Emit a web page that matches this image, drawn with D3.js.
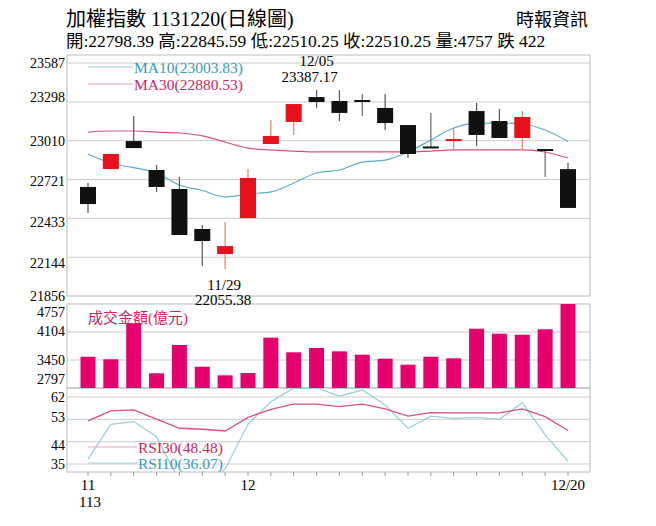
<!DOCTYPE html>
<html><head><meta charset="utf-8">
<script src="https://cdn.jsdelivr.net/npm/d3@7"></script>
<style>body{margin:0;background:#fff}svg{font-family:"Liberation Serif","Noto Sans CJK TC",serif}</style>
</head><body>
<svg id="c" width="656" height="526"></svg>
<script>
// daily OHLC, 11/20 .. 12/20
var open  = [22666,22799,23007,22792,22651,22354,22168,22435,22985,23149,23334,23305,23312,23253,23126,22967,23007,23230,23156,23030,22948,22798.39];
var high  = [22695,22911,23193,22829,22740,22383,22406,22799,23163,23282,23387,23386,23357,23357,23126,23215,23104,23290,23245,23230,22948,22845.59];
var low   = [22473,22799,22955,22629,22309,22079,22055,22435,22985,23052,23253,23156,23193,23089,22881,22959,22933,22970,23030,22941,22740,22510.25];
var close = [22539,22911,22955,22666,22309,22264,22227,22733,23045,23282,23297,23216,23312,23141,22911,22967,23022,23052,23030,23186,22948,22510.25];
var ma10  = [22911,22844,22810,22770,22681,22640,22591,22614,22629,22695,22770,22792,22851,22866,22926,23015,23104,23141,23141,23134,23089,23004];
var ma30  = [23074,23082,23082,23074,23067,23045,23000,22955,22941,22933,22926,22926,22926,22926,22926,22933,22941,22941,22941,22941,22926,22881];
var volume = [3527,3467,4307,3140,3800,3294,3093,3147,3971,3630,3730,3653,3574,3481,3341,3527,3490,4180,4064,4040,4167,4757];
var rsi30 = [52.4,56.4,56.8,53.1,49.4,49.0,48.3,53.8,57.0,59.1,59.1,58.1,59.1,57.2,54.3,55.7,55.6,55.6,55.6,57.2,54.1,48.5];
var rsi10 = [37.0,51.0,52.1,46.0,28,25,33,51.0,60.1,65.6,65.7,62.4,64.8,58.8,49.4,54.3,53.4,53.8,53.0,59.7,46.7,36.1];
var priceTicks = [23587,23298,23010,22721,22433,22144,21856];
var volTicks = [4757,4104,3450,2797];
var rsiTicks = [62,53,44,35];
var dateLabels = [{i:0,t:"11"},{i:7,t:"12"},{i:21,t:"12/20"}];

var svg = d3.select("#c");
var L = 67, R = 590;
var x = d3.scaleLinear().domain([0,21]).range([88,568]);
var yP = d3.scaleLinear().domain([21856,23587]).range([296,63]);
var yV = d3.scaleLinear().domain([2797,4757]).range([388,304]);
var yR = d3.scaleLinear().domain([35,62]).range([464,397]);
var grid = "#ccc";

// header
svg.append("text").attr("x",66).attr("y",26).attr("font-size",20).text("加權指數 1131220(日線圖)");
svg.append("text").attr("x",588).attr("y",26).attr("font-size",18).attr("text-anchor","end").text("時報資訊");
svg.append("text").attr("x",66).attr("y",47).attr("font-size",17.5).text("開:22798.39 高:22845.59 低:22510.25 收:22510.25 量:4757 跌 422");

function panel(y0,y1,scale,ticks,labelY){
  svg.append("rect").attr("x",L).attr("y",y0).attr("width",R-L).attr("height",y1-y0).attr("fill","none").attr("stroke","#bbb");
  ticks.forEach(function(t,k){
    var yy = scale(t);
    if (yy>y0+2 && yy<y1-2) svg.append("line").attr("x1",L).attr("x2",R).attr("y1",yy).attr("y2",yy).attr("stroke",grid);
    var ly = labelY ? labelY[k] : yy+5;
    svg.append("text").attr("x",L-2).attr("y",ly).attr("font-size",14).attr("text-anchor","end").text(t);
  });
}
panel(55,296,yP,priceTicks,[68,102,146,186,227,268,301]);
panel(304,388,yV,volTicks,[317,336,365,384]);
panel(388,472,yR,rsiTicks,[402,422,450,469]);

// MA lines
var line = function(s,arr){return d3.line().x(function(d,i){return x(i)}).y(function(d){return s(d)}).curve(d3.curveMonotoneX)(arr);};
svg.append("path").attr("d",line(yP,ma30)).attr("fill","none").attr("stroke","#d9527f").attr("stroke-width",1.2);
svg.append("path").attr("d",line(yP,ma10)).attr("fill","none").attr("stroke","#5aaec4").attr("stroke-width",1.2);

// candles
var cw = 16;
open.forEach(function(o,i){
  var c = close[i], up = c>o, col = up ? "#e8101a" : "#111";
  var wcol = (o===c) ? "#666" : (up ? "#e8806a" : "#555");
  svg.append("line").attr("x1",x(i)).attr("x2",x(i)).attr("y1",yP(high[i])).attr("y2",yP(low[i])).attr("stroke",wcol).attr("stroke-width",1.2);
  var t = yP(Math.max(o,c)), b = yP(Math.min(o,c));
  svg.append("rect").attr("x",x(i)-cw/2).attr("y",t).attr("width",cw).attr("height",Math.max(b-t,2)).attr("fill",col);
});

// legend
svg.append("line").attr("x1",88).attr("x2",133).attr("y1",67).attr("y2",67).attr("stroke","#9cc9d6");
svg.append("text").attr("x",134).attr("y",73).attr("font-size",15.5).attr("fill","#3a9ab8").text("MA10(23003.83)");
svg.append("line").attr("x1",88).attr("x2",133).attr("y1",84).attr("y2",84).attr("stroke","#e7a1b7");
svg.append("text").attr("x",134).attr("y",90).attr("font-size",15.5).attr("fill","#d0245f").text("MA30(22880.53)");
svg.append("text").attr("x",x(10)).attr("y",66).attr("font-size",15).attr("text-anchor","middle").text("12/05");
svg.append("text").attr("x",x(10)-7).attr("y",82).attr("font-size",15).attr("text-anchor","middle").text("23387.17");
svg.append("text").attr("x",x(6)-1).attr("y",290).attr("font-size",15).attr("text-anchor","middle").text("11/29");
svg.append("text").attr("x",x(6)-2).attr("y",305).attr("font-size",15).attr("text-anchor","middle").text("22055.38");

// volume
svg.selectAll(".vb").data(volume).enter().append("rect")
  .attr("x",function(d,i){return x(i)-7.5}).attr("width",15)
  .attr("y",function(d){return yV(d)}).attr("height",function(d){return 388-yV(d)}).attr("fill","#e5006e");
svg.append("text").attr("x",88).attr("y",323).attr("font-size",15).attr("fill","#d0245f").text("成交金額(億元)");

// RSI
svg.append("clipPath").attr("id","rc").append("rect").attr("x",L).attr("y",388).attr("width",R-L).attr("height",84);
var g = svg.append("g").attr("clip-path","url(#rc)");
var lin = function(arr){return d3.line().x(function(d,i){return x(i)}).y(function(d){return yR(d)})(arr);};
g.append("path").attr("d",lin(rsi10)).attr("fill","none").attr("stroke","#9ccfd8").attr("stroke-width",1.3);
g.append("path").attr("d",lin(rsi30)).attr("fill","none").attr("stroke","#d9527f").attr("stroke-width",1.3);
svg.append("line").attr("x1",88).attr("x2",137).attr("y1",447).attr("y2",447).attr("stroke","#e7a1b7");
svg.append("text").attr("x",138).attr("y",453).attr("font-size",15.5).attr("fill","#d0245f").text("RSI30(48.48)");
svg.append("line").attr("x1",88).attr("x2",137).attr("y1",463).attr("y2",463).attr("stroke","#9ccfd8");
svg.append("text").attr("x",138).attr("y",469).attr("font-size",15.5).attr("fill","#3a9ab8").text("RSI10(36.07)");

// x ticks
open.forEach(function(d,i){
  svg.append("line").attr("x1",x(i)).attr("x2",x(i)).attr("y1",472).attr("y2",476).attr("stroke","#999");
});
dateLabels.forEach(function(d){
  svg.append("text").attr("x",x(d.i)).attr("y",490).attr("font-size",15).attr("text-anchor","middle").text(d.t);
});
svg.append("text").attr("x",x(0)+2).attr("y",507).attr("font-size",15).attr("text-anchor","middle").text("113");
</script>
</body></html>
